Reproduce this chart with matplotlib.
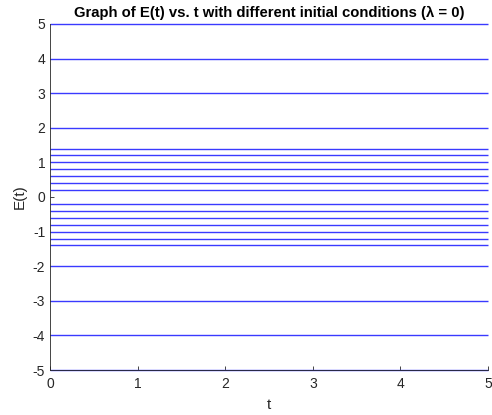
import matplotlib
matplotlib.use("Agg")
import matplotlib.pyplot as plt

# time span and initial energies (lambda = 0 -> E stays constant)
t_span = [0, 5]
e0_values = [-5, -4, -3, -2, -1.4, -1.2, -1.0, -0.8, -0.6, -0.4, -0.2,
             0.2, 0.4, 0.6, 0.8, 1.0, 1.2, 1.4, 2, 3, 4, 5]
x_ticks = [0, 1, 2, 3, 4, 5]
y_ticks = [-5, -4, -3, -2, -1, 0, 1, 2, 3, 4, 5]

plt.rcParams['font.family'] = ['Liberation Sans', 'DejaVu Sans']
plt.rcParams['axes.unicode_minus'] = False

fig = plt.figure(figsize=(4.92, 4.15), dpi=100)
ax = fig.add_axes([50 / 492, 1 - 370 / 415, 438 / 492, 346 / 415])

for e0 in e0_values:
    ax.plot(t_span, [e0, e0], color='#3a3aff', linewidth=1.0, clip_on=False,
            solid_capstyle='butt')

ax.set_xlim(0, 5)
ax.set_ylim(-5, 5)
ax.set_xticks(x_ticks)
ax.set_yticks(y_ticks)
ax.spines['top'].set_visible(False)
ax.spines['right'].set_visible(False)
for s in ['left', 'bottom']:
    ax.spines[s].set_color('#262626')
    ax.spines[s].set_linewidth(0.6)
ax.tick_params(direction='in', length=3, width=0.6, colors='#262626',
               labelsize=10, labelcolor='#262626')
ax.tick_params(axis='x', pad=5)
ax.set_xlabel('t', fontsize=11, color='#262626', labelpad=5)
ax.set_ylabel('E(t)', fontsize=11, color='#262626', labelpad=4)
ax.set_title('Graph of E(t) vs. t with different initial conditions (\u03bb = 0)',
             fontsize=10.7, fontweight='bold', pad=5)

fig.savefig('out.png', dpi=100)
